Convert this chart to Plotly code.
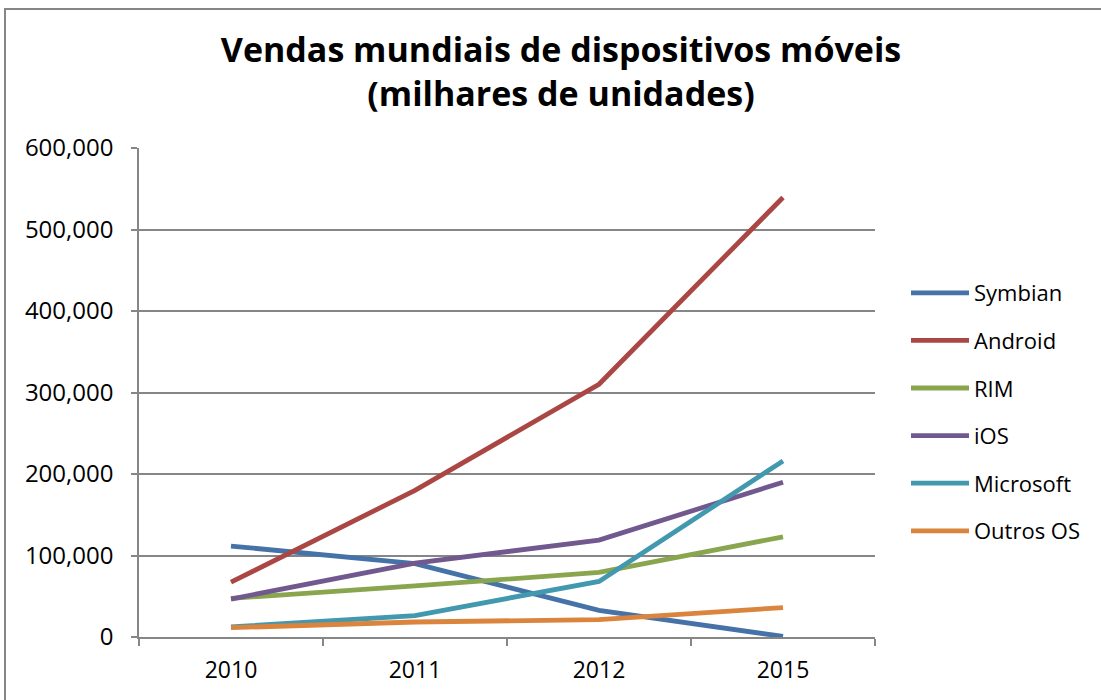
import plotly.graph_objects as go

years = ["2010", "2011", "2012", "2015"]
series_names = ["Symbian", "Android", "RIM", "iOS", "Microsoft", "Outros OS"]
symbian = [111577, 89930, 32666, 661]
android = [67225, 179873, 310088, 539318]
rim = [47452, 62600, 79335, 122864]
ios = [46598, 90560, 118848, 189924]
microsoft = [12378, 26346, 68156, 215998]
outros = [11417, 18392, 21383, 36133]
colors = ["#4572A7", "#AA4643", "#89A54E", "#71588F", "#4198AF", "#DB843D"]

values = [symbian, android, rim, ios, microsoft, outros]

FONT = "Open Sans"
fig = go.Figure()
for name, vals, col in zip(series_names, values, colors):
    fig.add_trace(go.Scatter(
        x=years, y=vals, name=name, mode="lines", legendgroup=name,
        line=dict(color=col, width=4.8),
    ))

grid = "#868686"
W, H = 1101, 700
L, R, T, B = 139, 875, 148, 637
fig.update_layout(
    width=W, height=H,
    margin=dict(l=L, r=W - R, t=T, b=H - B, pad=0),
    paper_bgcolor="white", plot_bgcolor="white",
    font=dict(family=FONT, size=22, color="black"),
    title=dict(
        text="<b>Vendas mundiais de dispositivos móveis<br>(milhares de unidades)</b>",
        x=561 / W, xanchor="center", xref="container",
        y=1 - 62 / H, yanchor="top", yref="container",
        font=dict(family=FONT, size=34, color="black"),
    ),
    legend=dict(
        x=(906 - L) / (R - L), xanchor="left",
        y=(B - 412) / (B - T), yanchor="middle",
        font=dict(family=FONT, size=22),
        itemwidth=58, tracegroupgap=16,
        bgcolor="rgba(0,0,0,0)",
    ),
    showlegend=True,
    xaxis=dict(
        type="category", range=[-0.5, 3.5],
        showline=True, linecolor=grid, linewidth=1.5,
        showgrid=False, ticks="outside", tickson="boundaries",
        ticklen=7, tickcolor=grid, tickwidth=1.5,
        ticklabelstandoff=12,
        tickfont=dict(family=FONT, size=23),
    ),
    yaxis=dict(
        range=[0, 600000], dtick=100000, tickformat=",",
        showline=True, linecolor=grid, linewidth=1.5,
        showgrid=True, gridcolor=grid, gridwidth=1.5,
        zeroline=False,
        ticks="outside", ticklen=6, tickcolor=grid, tickwidth=1.5,
        ticklabelstandoff=13,
        tickfont=dict(family=FONT, size=24),
    ),
    shapes=[dict(
        type="rect", xref="paper", yref="paper",
        x0=(5 - L) / (R - L), x1=(1110 - L) / (R - L),
        y0=(B - 710) / (B - T), y1=(B - 9) / (B - T),
        line=dict(color="#868686", width=2), fillcolor="rgba(0,0,0,0)",
        layer="below",
    )],
)

fig.write_html("out.html", config={"displayModeBar": False},
               post_script="document.body.style.margin='0';")
